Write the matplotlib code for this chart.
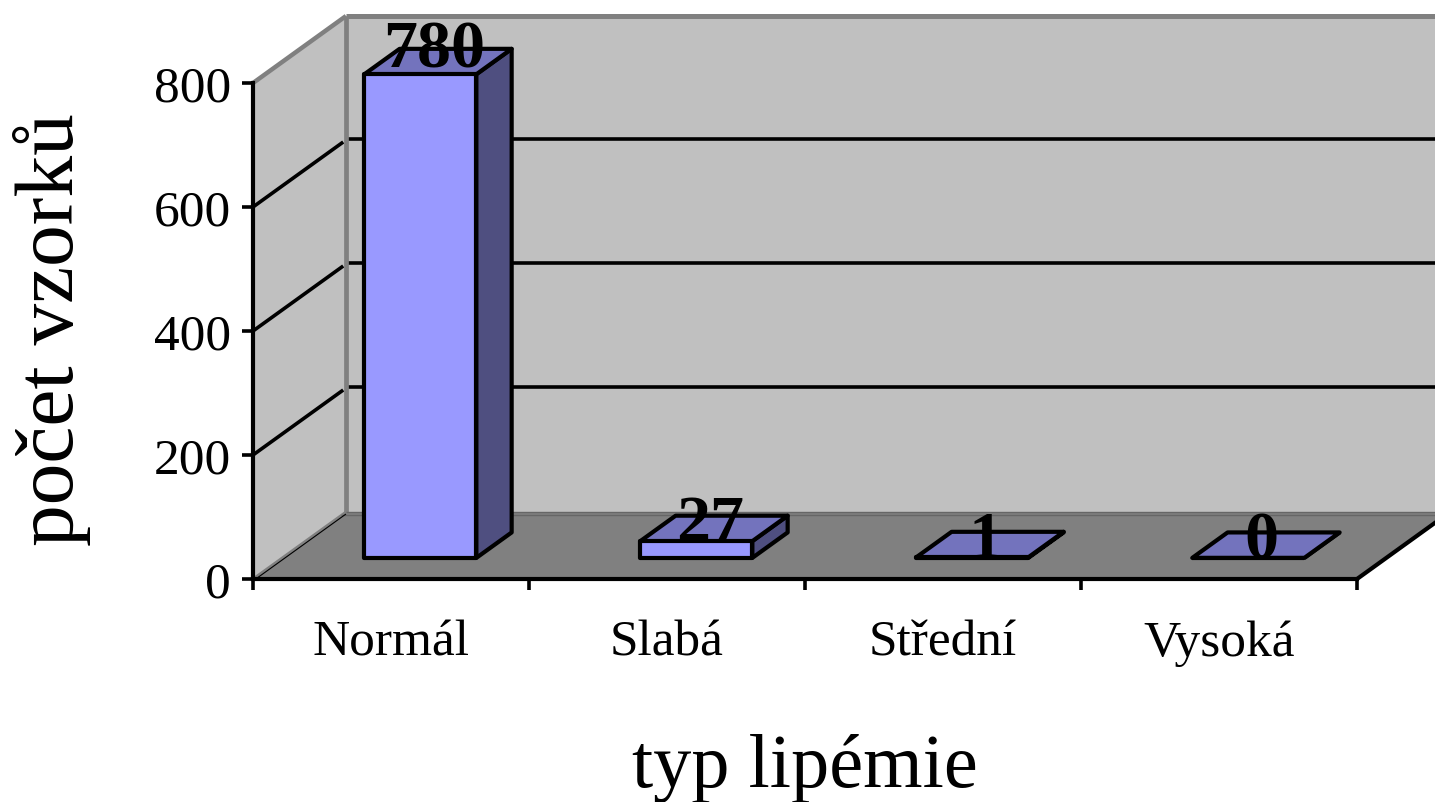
#!/usr/bin/python

import matplotlib
matplotlib.use('Agg')
import matplotlib.pyplot as plt
from matplotlib.patches import Polygon

CATEGORIES = ['Normál', 'Slabá', 'Střední', 'Vysoká']
COUNTS = [780, 27, 1, 0]
Y_TICKS = [0, 200, 400, 600, 800]

YLABEL = 'počet vzorků'
XLABEL = 'typ lipémie'

WALL = '#c0c0c0'
FLOOR = '#808080'
FRONT = '#9999ff'
TOP = '#7373bd'
SIDE = '#4f4f80'

W, H = 1435, 803
LEFT, RIGHT, BASE, TOPY = 253, 1357, 580, 84

# oblique depth of the plot box, in data units
DEPTH_X = 93 / ((RIGHT - LEFT) / len(CATEGORIES))
DEPTH_Y = 67 / ((BASE - TOPY) / 800)

BAR_WIDTH = 0.406
BAR_D0 = 0.315
BAR_D1 = 0.695


def proj(x, v, d):
    return (x + d * DEPTH_X, v + d * DEPTH_Y)


def poly(ax, pts, color, edge='none', lw=0, z=1):
    ax.add_patch(Polygon(pts, closed=True, facecolor=color, edgecolor=edge,
                         linewidth=lw, joinstyle='round', zorder=z, clip_on=False))


def line(ax, p, q, color, lw, z=2):
    ax.plot([p[0], q[0]], [p[1], q[1]], color=color, lw=lw, zorder=z,
            clip_on=False, solid_capstyle='butt')


def draw_box(ax):
    n = len(CATEGORIES)
    poly(ax, [proj(0, 0, 0), proj(0, 800, 0), proj(0, 800, 1), proj(0, 0, 1)], WALL)
    poly(ax, [proj(0, 0, 1), proj(0, 800, 1), proj(n, 800, 1), proj(n, 0, 1)], WALL)
    poly(ax, [proj(0, 0, 0), proj(0, 0, 1), proj(n, 0, 1), proj(n, 0, 0)], FLOOR)

    for v in Y_TICKS[1:-1]:
        line(ax, proj(0, v, 0), proj(0, v, 0.97), 'black', 2.6)
        line(ax, proj(0, v, 1.01), proj(n, v, 1.01), 'black', 2.6)

    # grey edges of the walls
    line(ax, proj(0, 800, 0), proj(0, 800, 1), FLOOR, 3.2)
    line(ax, proj(0, 800, 1), proj(n, 800, 1), FLOOR, 3.6)
    line(ax, proj(0, 0, 1), proj(0, 800, 1), FLOOR, 3.4)
    line(ax, proj(0, 0, 0), proj(0, 0, 1), FLOOR, 2.0)
    line(ax, proj(0, 0, 1), proj(n, 0, 1), '#666666', 1.0)
    line(ax, proj(0, 0, 0.95), proj(n, 0, 0.95), '#666666', 1.0)
    line(ax, proj(0.01, 0, 0), proj(0.01, 0, 0.97), 'black', 0.8)
    line(ax, proj(n, 0, 0), proj(n, 0, 1), 'black', 3.0)


def draw_bars(ax):
    for i, count in enumerate(COUNTS):
        x0 = i + 0.5 - BAR_WIDTH / 2
        x1 = i + 0.5 + BAR_WIDTH / 2
        kw = dict(edge='black', lw=3.0, z=3)
        poly(ax, [proj(x1, 0, BAR_D0), proj(x1, count, BAR_D0),
                  proj(x1, count, BAR_D1), proj(x1, 0, BAR_D1)], SIDE, **kw)
        poly(ax, [proj(x0, count, BAR_D0), proj(x1, count, BAR_D0),
                  proj(x1, count, BAR_D1), proj(x0, count, BAR_D1)], TOP, **kw)
        poly(ax, [proj(x0, 0, BAR_D0), proj(x1, 0, BAR_D0),
                  proj(x1, count, BAR_D0), proj(x0, count, BAR_D0)], FRONT, **kw)
        mid = proj(i + 0.5, count, (BAR_D0 + BAR_D1) / 2)
        # labels sit a bit lower on the flat bars
        lift = 3 + 5 * count / 780
        ax.annotate(str(count), mid, xytext=(-3, lift), textcoords='offset points',
                    ha='center', va='center', fontsize=49, fontweight='bold',
                    zorder=5, annotation_clip=False)


def main():
    plt.rcParams['font.family'] = ['Liberation Serif', 'DejaVu Serif']

    fig = plt.figure(figsize=(W / 100, H / 100), dpi=100)
    ax = fig.add_axes([LEFT / W, 1 - BASE / H, (RIGHT - LEFT) / W, (BASE - TOPY) / H])
    ax.patch.set_visible(False)
    ax.set_xlim(0, len(CATEGORIES))
    ax.set_ylim(0, 800)

    draw_box(ax)
    draw_bars(ax)

    ax.spines['top'].set_visible(False)
    ax.spines['right'].set_visible(False)
    for s in ['left', 'bottom']:
        ax.spines[s].set_linewidth(3.0)
        ax.spines[s].set_zorder(4)

    ax.set_yticks(Y_TICKS)
    ax.tick_params(axis='y', length=8, width=2.6, labelsize=37, pad=8)
    ax.set_xticks(range(len(CATEGORIES) + 1))
    ax.set_xticklabels([])
    ax.tick_params(axis='x', which='major', length=8, width=2.6)
    ax.set_xticks([i + 0.5 for i in range(len(CATEGORIES))], minor=True)
    ax.set_xticklabels(CATEGORIES, minor=True)
    ax.tick_params(axis='x', which='minor', length=0, labelsize=37, pad=29)

    ax.set_xlabel(XLABEL, fontsize=55)
    ax.xaxis.set_label_coords(0.5, -0.31)
    ax.set_ylabel(YLABEL, fontsize=60)
    ax.yaxis.set_label_coords(-0.147, 0.505)

    fig.savefig('out.png', dpi=100)


if __name__ == '__main__':
    main()
